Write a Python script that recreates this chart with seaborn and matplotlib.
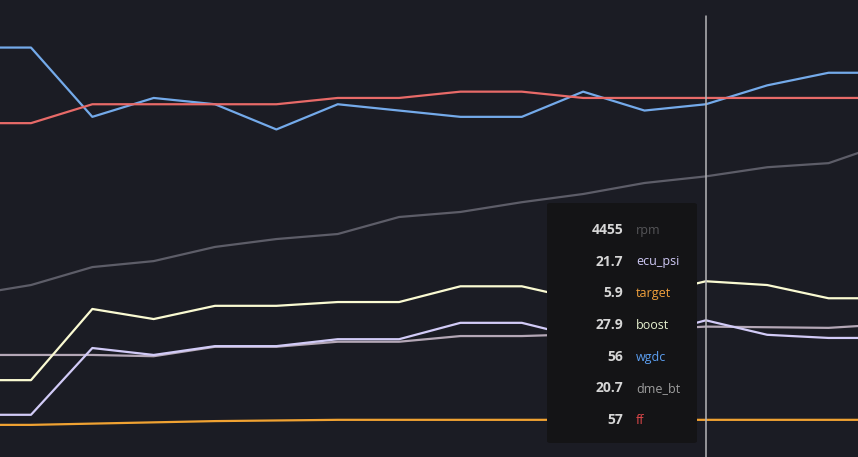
import numpy as np
import pandas as pd
import matplotlib
matplotlib.use("Agg")
import matplotlib.pyplot as plt
from matplotlib.patches import FancyBboxPatch
import seaborn as sns

# ---- data (sample index, one point every step) ----
idx = list(range(16))
rpm = [2570, 2730, 3015, 3110, 3335, 3460, 3540, 3810, 3890, 4045, 4175, 4350, 4455, 4600, 4665, 5000]
ecu_psi = [6.7, 6.7, 17.3, 16.2, 17.6, 17.6, 18.7, 18.7, 21.3, 21.3, 18.9, 19.1, 21.7, 19.4, 18.9, 18.9]
target = [5.1, 5.1, 5.3, 5.5, 5.7, 5.8, 5.9, 5.9, 5.9, 5.9, 5.9, 5.9, 5.9, 5.9, 5.9, 5.9]
boost = [12.2, 12.2, 23.5, 21.9, 24.0, 24.0, 24.6, 24.6, 27.1, 27.1, 24.9, 25.6, 27.9, 27.3, 25.2, 25.2]
wgdc = [65, 65, 54, 57, 56, 52, 56, 55, 54, 54, 58, 55, 56, 59, 61, 61]
dme_bt = [16.2, 16.2, 16.2, 16.0, 17.5, 17.5, 18.3, 18.3, 19.2, 19.2, 19.5, 20.2, 20.7, 20.6, 20.5, 21.1]
ff = [53, 53, 56, 56, 56, 56, 57, 57, 58, 58, 57, 57, 57, 57, 57, 57]

names = ["rpm", "ecu_psi", "target", "boost", "wgdc", "dme_bt", "ff"]
line_colors = {"rpm": "#5d5d68", "ecu_psi": "#d2cbf7", "target": "#f0a232",
               "boost": "#fafad2", "wgdc": "#74aaea", "dme_bt": "#b4a7b6", "ff": "#e86a68"}
label_colors = {"rpm": "#555558", "ecu_psi": "#cfc9f5", "target": "#f0a03c",
                "boost": "#e6f0cf", "wgdc": "#5b9ef0", "dme_bt": "#9d9d9d", "ff": "#e0484a"}
hover_i = 12
hover_vals = ["4455", "21.7", "5.9", "27.9", "56", "20.7", "57"]

series = {"rpm": [v / 100 for v in rpm], "ecu_psi": ecu_psi, "target": target,
          "boost": boost, "wgdc": wgdc, "dme_bt": dme_bt, "ff": ff}
df = pd.concat([pd.DataFrame({"i": idx, "value": series[n], "series": n}) for n in names])

BG = "#1b1c24"
sns.set_theme(style="dark")
fig = plt.figure(figsize=(8.58, 4.57), dpi=100, facecolor=BG)
ax = fig.add_axes([0, 0, 1, 1])
ax.set_facecolor(BG)

plot_order = ["rpm", "dme_bt", "ecu_psi", "boost", "target", "wgdc", "ff"]
sns.lineplot(data=df, x="i", y="value", hue="series", hue_order=plot_order,
             palette=line_colors, linewidth=1.6, legend=False, ax=ax, sort=False)

ax.set_xlim(0.495, 14.48)
ax.set_ylim(0, 72.55)
ax.axvline(hover_i, ymin=0, ymax=(457 - 16) / 457, color="#b5b5b8", linewidth=1.1, zorder=3)
for s in ax.spines.values():
    s.set_visible(False)
ax.set_xticks([]); ax.set_yticks([])
ax.set_xlabel(""); ax.set_ylabel("")
ax.grid(False)

W, H = 858, 457
box = FancyBboxPatch((547 / W, 1 - 443 / H), 150 / W, 240 / H,
                     boxstyle="round,pad=0,rounding_size=0.004",
                     transform=fig.transFigure, facecolor="#141416",
                     edgecolor="none", zorder=10)
fig.patches.append(box)

rows = [234, 265.5, 297, 329, 361, 392, 423.5]
for n, v, yb in zip(names, hover_vals, rows):
    fig.text(623 / W, 1 - yb / H, v, ha="right", va="baseline", fontsize=10,
             fontweight="bold", color="#d6d6d6", family=["Open Sans", "DejaVu Sans"], zorder=11)
    fig.text(636 / W, 1 - yb / H, n, ha="left", va="baseline", fontsize=9,
             color=label_colors[n], family=["Open Sans", "DejaVu Sans"], zorder=11)

fig.savefig("out.png", dpi=100, facecolor=BG)
